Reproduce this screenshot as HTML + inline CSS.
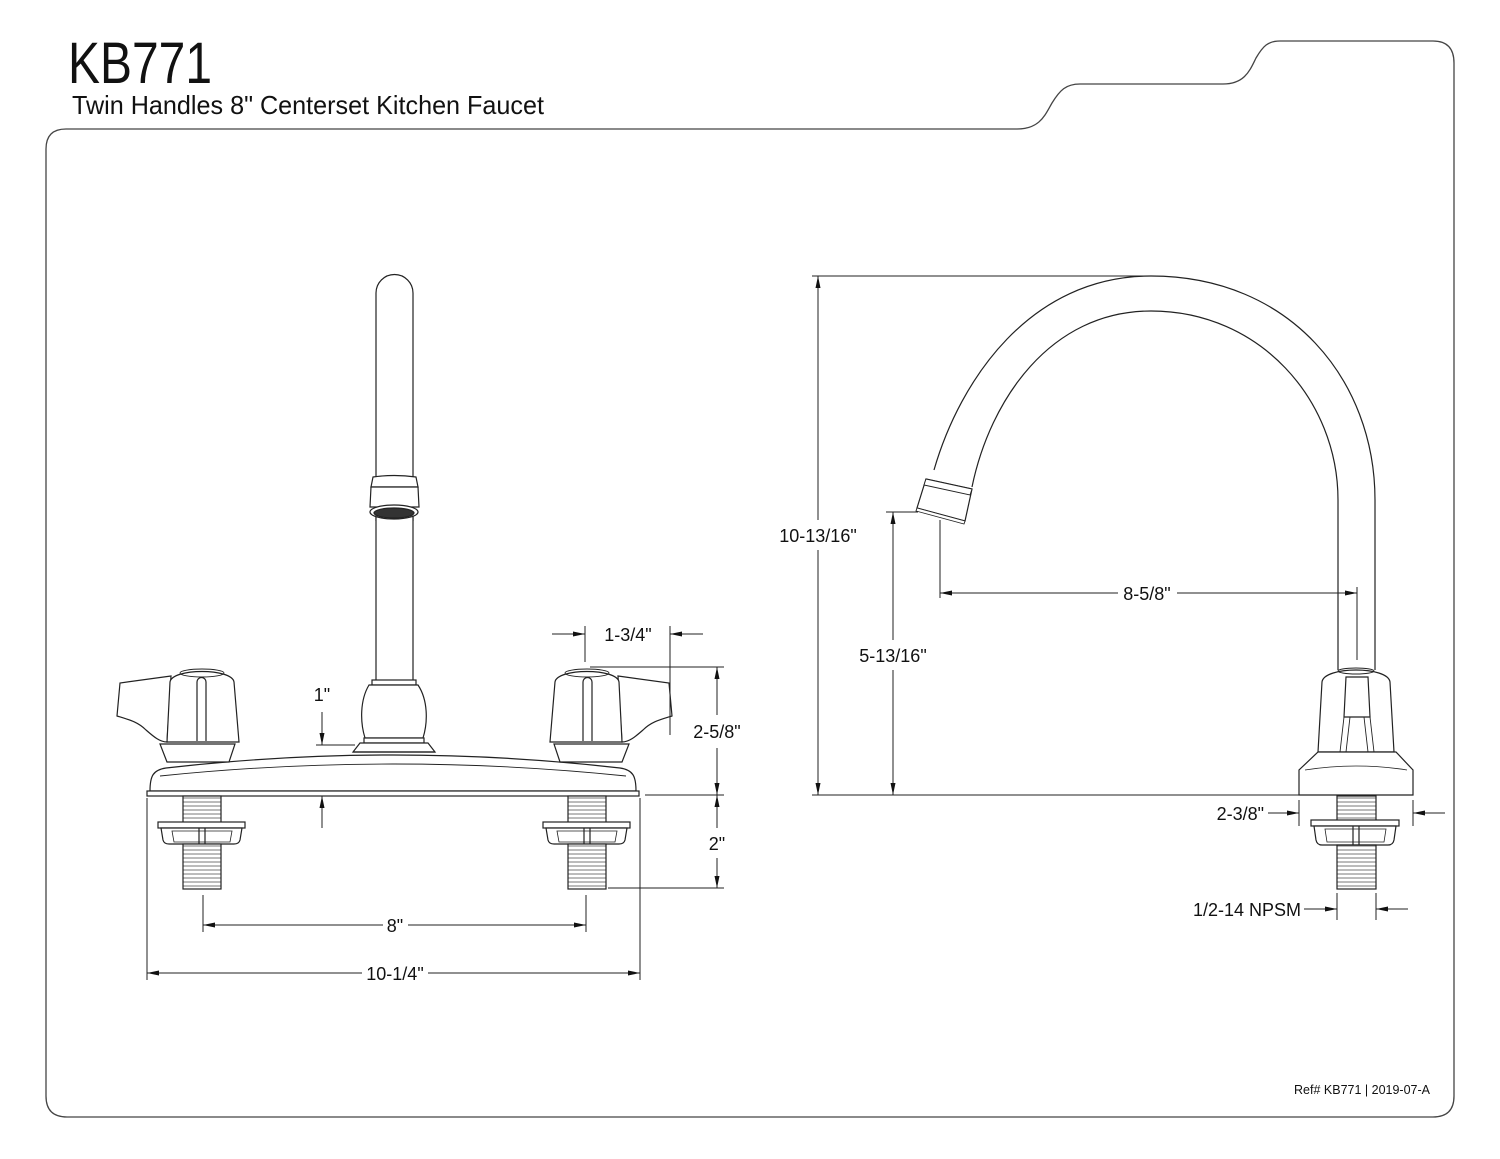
<!DOCTYPE html>
<html><head><meta charset="utf-8"><style>
html,body{margin:0;padding:0;background:#fff;}
svg{display:block;}
text{font-family:"Liberation Sans",Arial,sans-serif;fill:#111;}
</style></head><body>
<svg width="1500" height="1159" viewBox="0 0 1500 1159" xmlns="http://www.w3.org/2000/svg">
<defs>
<marker id="a" viewBox="0 0 12 6" refX="12" refY="3" markerWidth="12" markerHeight="6" orient="auto" markerUnits="userSpaceOnUse">
<path d="M0,0.5 L12,3 L0,5.5 Z" fill="#111"/></marker>
<pattern id="thr" width="10" height="4" patternUnits="userSpaceOnUse"><rect width="10" height="4" fill="#fff"/><line x1="0" y1="2" x2="10" y2="2" stroke="#555" stroke-width="0.8"/></pattern>
</defs>
<path d="M66,129 L1017,129 C1040,129 1045,115 1052,103 C1060,90 1066,84 1080,84 L1223,84 C1245,84 1250,70 1256,58 C1263,46 1268,41 1280,41 L1433,41 Q1454,41 1454,63 L1454,1096 Q1454,1117 1433,1117 L67,1117 Q46,1117 46,1096 L46,149 Q46,129 66,129 Z" fill="none" stroke="#444" stroke-width="1.3"/>
<text x="68" y="83" font-size="58" textLength="144" lengthAdjust="spacingAndGlyphs">KB771</text>
<text x="72" y="114" font-size="26" textLength="472" lengthAdjust="spacingAndGlyphs">Twin Handles 8" Centerset Kitchen Faucet</text>
<text x="1430" y="1094" font-size="12.5" text-anchor="end">Ref# KB771 | 2019-07-A</text>

<g fill="#fff" stroke="#222" stroke-width="1.2">
<path d="M376,521 L376,293 A18.5,18.5 0 0 1 413,293 L413,521" />
<rect x="376" y="515" width="37" height="166" stroke="none"/>
<line x1="376" y1="515" x2="376" y2="681"/><line x1="413" y1="515" x2="413" y2="681"/>
<path d="M373,477 Q394,474 416,477 L418,487 L371,487 Z"/>
<path d="M371,487 L418,487 L419,507 L370,507 Z"/>
<ellipse cx="394" cy="512" rx="24" ry="7" fill="#fff"/>
<ellipse cx="394" cy="513" rx="20" ry="5" fill="#333"/>
<rect x="372" y="680" width="44" height="5"/>
<path d="M369,685 L418,685 C428,700 428,722 423,738 L365,738 C360,722 360,700 369,685 Z"/>
<rect x="364" y="738" width="60" height="5"/>
<path d="M360,743 L428,743 L435,752 L353,752 Z"/>
<path d="M150,791 C150,776 153,770 166,768 Q393,742 620,768 C633,770 636,776 636,791 Z"/>
<path d="M160,776 Q393,752 626,776" fill="none" stroke-width="0.9"/>
<rect x="147" y="791" width="492" height="5"/>
<path d="M353,752 L435,752" />
<path d="M167,762 L160,744 L235,744 L229,762 Z" />
<path d="M171,676 L120,683 L117,716 C130,720 138,722 146,730 C154,737 160,742 167,742 Z"/>
<path d="M167,742 L170,682 C172,668 232,668 234,682 L239,742 Z"/>
<ellipse cx="202" cy="673" rx="22" ry="4" fill="none" stroke-width="0.9"/>
<path d="M197,741 L197,682 A4.5,4.5 0 0 1 206,682 L206,741" fill="none"/>
<g transform="translate(789,0) scale(-1,1)">
<path d="M167,762 L160,744 L235,744 L229,762 Z" />
<path d="M171,676 L120,683 L117,716 C130,720 138,722 146,730 C154,737 160,742 167,742 Z"/>
<path d="M167,742 L170,682 C172,668 232,668 234,682 L239,742 Z"/>
<ellipse cx="202" cy="673" rx="22" ry="4" fill="none" stroke-width="0.9"/>
<path d="M197,741 L197,682 A4.5,4.5 0 0 1 206,682 L206,741" fill="none"/>
</g>
<g>
<rect x="183" y="796" width="38" height="27" fill="url(#thr)"/>
<rect x="158" y="822" width="87" height="6"/>
<path d="M161,828 L242,828 L240,840 Q239,844 234,844 L169,844 Q164,844 163,840 Z"/>
<path d="M172,831 L232,831 L230,842 L174,842 Z" fill="none" stroke-width="0.8"/>
<line x1="199" y1="828" x2="199" y2="844"/><line x1="205" y1="828" x2="205" y2="844"/>
<rect x="183" y="844" width="38" height="45" fill="url(#thr)"/>
</g>
<g transform="translate(385,0)">
<rect x="183" y="796" width="38" height="27" fill="url(#thr)"/>
<rect x="158" y="822" width="87" height="6"/>
<path d="M161,828 L242,828 L240,840 Q239,844 234,844 L169,844 Q164,844 163,840 Z"/>
<path d="M172,831 L232,831 L230,842 L174,842 Z" fill="none" stroke-width="0.8"/>
<line x1="199" y1="828" x2="199" y2="844"/><line x1="205" y1="828" x2="205" y2="844"/>
<rect x="183" y="844" width="38" height="45" fill="url(#thr)"/>
</g>

<path d="M934,470 C960,380 1030,276 1151,276 C1290,276 1375,380 1375,500 L1375,670" fill="none"/>
<path d="M972,487 C990,400 1050,311 1151,311 C1260,311 1338,400 1338,500 L1338,670" fill="none"/>
<path d="M926,479 L972,489 L965,521 L917,508 Z"/>
<path d="M926,479 L972,489 L970,495 L924,485 Z" stroke-width="0.9"/>
<path d="M917,508 L965,521 L964,524 L916,511 Z" stroke-width="0.9"/>
<path d="M1318,752 L1322,682 C1324,666 1388,666 1390,682 L1394,752 Z"/>
<ellipse cx="1356" cy="671" rx="18" ry="3" fill="none" stroke-width="0.9"/>
<path d="M1346,677 L1368,677 L1370,717 L1344,717 Z" fill="none"/>
<path d="M1344,717 L1340,752 M1370,717 L1374,752 M1350,717 L1346,752 M1364,717 L1368,752" fill="none" stroke-width="0.9"/>
<path d="M1318,752 L1396,752 L1413,770 L1413,795 L1299,795 L1299,770 Z"/>
<path d="M1305,770 Q1356,762 1407,770" fill="none" stroke-width="0.8"/>
<rect x="1337" y="796" width="39" height="25" fill="url(#thr)"/>
<rect x="1311" y="820" width="88" height="6"/>
<path d="M1314,826 L1396,826 L1394,840 Q1393,845 1388,845 L1322,845 Q1317,845 1316,840 Z"/>
<path d="M1325,829 L1386,829 L1384,842 L1327,842 Z" fill="none" stroke-width="0.8"/>
<line x1="1353" y1="826" x2="1353" y2="845"/><line x1="1359" y1="826" x2="1359" y2="845"/>
<rect x="1337" y="845" width="39" height="44" fill="url(#thr)"/>
</g>

<g stroke="#222" stroke-width="1" fill="none">
<line x1="585" y1="626" x2="585" y2="662"/><line x1="670" y1="626" x2="670" y2="735"/>
<line x1="552" y1="634" x2="585" y2="634" marker-end="url(#a)"/>
<line x1="703" y1="634" x2="670" y2="634" marker-end="url(#a)"/>
<line x1="590" y1="667" x2="724" y2="667"/>
<line x1="645" y1="795" x2="724" y2="795"/>
<line x1="608" y1="888" x2="724" y2="888"/>
<line x1="717" y1="715" x2="717" y2="667" marker-end="url(#a)"/>
<line x1="717" y1="748" x2="717" y2="795" marker-end="url(#a)"/>
<line x1="717" y1="828" x2="717" y2="795" marker-end="url(#a)"/>
<line x1="717" y1="858" x2="717" y2="888" marker-end="url(#a)"/>
<line x1="316" y1="745" x2="355" y2="745"/>
<line x1="322" y1="712" x2="322" y2="745" marker-end="url(#a)"/>
<line x1="322" y1="828" x2="322" y2="796" marker-end="url(#a)"/>
<line x1="203" y1="895" x2="203" y2="932"/><line x1="586" y1="895" x2="586" y2="932"/>
<line x1="383" y1="925" x2="203" y2="925" marker-end="url(#a)"/>
<line x1="408" y1="925" x2="586" y2="925" marker-end="url(#a)"/>
<line x1="147" y1="798" x2="147" y2="980"/><line x1="640" y1="798" x2="640" y2="980"/>
<line x1="362" y1="973" x2="147" y2="973" marker-end="url(#a)"/>
<line x1="428" y1="973" x2="640" y2="973" marker-end="url(#a)"/>
<line x1="812" y1="276" x2="1151" y2="276"/>
<line x1="812" y1="795" x2="1300" y2="795"/>
<line x1="818" y1="520" x2="818" y2="276" marker-end="url(#a)"/>
<line x1="818" y1="550" x2="818" y2="795" marker-end="url(#a)"/>
<line x1="886" y1="512" x2="918" y2="512"/>
<line x1="893" y1="640" x2="893" y2="512" marker-end="url(#a)"/>
<line x1="893" y1="670" x2="893" y2="795" marker-end="url(#a)"/>
<line x1="940" y1="520" x2="940" y2="598"/><line x1="1357" y1="587" x2="1357" y2="660"/>
<line x1="1118" y1="593" x2="940" y2="593" marker-end="url(#a)"/>
<line x1="1177" y1="593" x2="1357" y2="593" marker-end="url(#a)"/>
<line x1="1299" y1="800" x2="1299" y2="826"/><line x1="1413" y1="800" x2="1413" y2="826"/>
<line x1="1268" y1="813" x2="1299" y2="813" marker-end="url(#a)"/>
<line x1="1445" y1="813" x2="1413" y2="813" marker-end="url(#a)"/>
<line x1="1337" y1="893" x2="1337" y2="920"/><line x1="1376" y1="893" x2="1376" y2="920"/>
<line x1="1304" y1="909" x2="1337" y2="909" marker-end="url(#a)"/>
<line x1="1408" y1="909" x2="1376" y2="909" marker-end="url(#a)"/>
</g>
<g font-size="18">
<text x="628" y="641" text-anchor="middle">1-3/4"</text>
<text x="717" y="738" text-anchor="middle">2-5/8"</text>
<text x="717" y="850" text-anchor="middle">2"</text>
<text x="322" y="701" text-anchor="middle">1"</text>
<text x="395" y="932" text-anchor="middle">8"</text>
<text x="395" y="980" text-anchor="middle">10-1/4"</text>
<text x="818" y="542" text-anchor="middle">10-13/16"</text>
<text x="893" y="662" text-anchor="middle">5-13/16"</text>
<text x="1147" y="600" text-anchor="middle">8-5/8"</text>
<text x="1264" y="820" text-anchor="end">2-3/8"</text>
<text x="1301" y="916" text-anchor="end">1/2-14 NPSM</text>
</g>
</svg>
</body></html>
